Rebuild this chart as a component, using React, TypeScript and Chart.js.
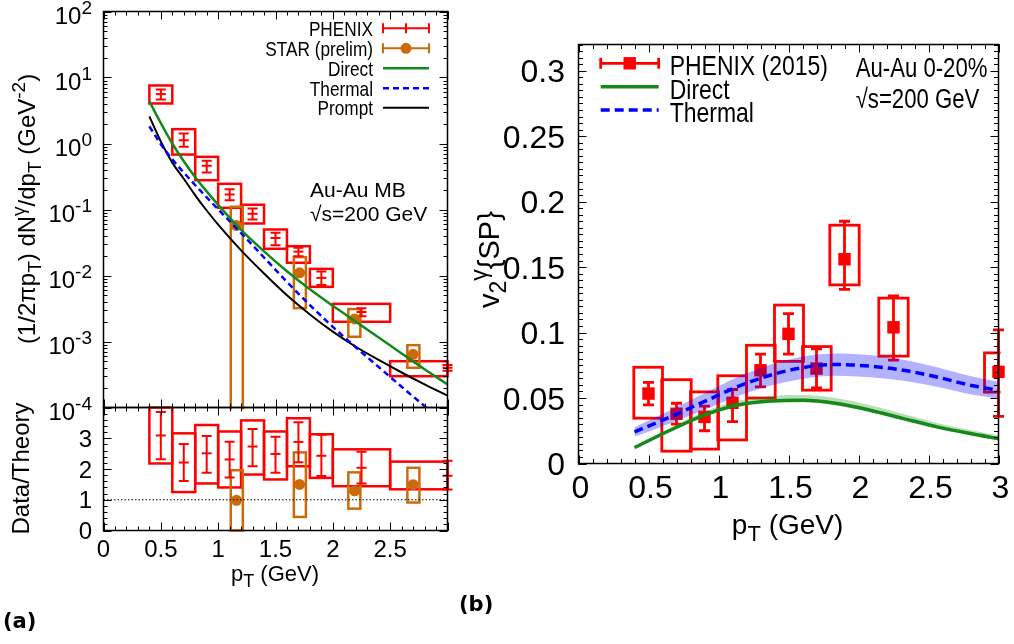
import React, { useEffect, useRef } from 'react';
import { Chart, registerables } from 'chart.js';

Chart.register(...registerables);

const W = 1014;
const H = 644;
const SANS = "'Liberation Sans', Arial, Helvetica, sans-serif";
const BOLDF = "'DejaVu Sans', 'Liberation Sans', sans-serif";
const RED = '#ff0000';
const ORANGE = '#cc6a0a';
const GREEN = '#16891a';
const BLUE = '#0000ff';

// ---------------- panel (a): spectrum ----------------
const phxX = [0.5, 0.7, 0.9, 1.1, 1.3, 1.5, 1.7, 1.9, 2.25, 3.0];
const phxY = [5.6, 1.12, 0.46, 0.169, 0.086, 0.037, 0.023, 0.0092, 0.0028, 0.0004];
const phxErrLo = [4.64, 0.89, 0.363, 0.138, 0.0705, 0.0288, 0.0196, 0.0072, 0.00242, 0.00036];
const phxErrHi = [6.58, 1.42, 0.546, 0.203, 0.1035, 0.0443, 0.0263, 0.0115, 0.0032, 0.00044];
const phxBoxXLo = [0.4, 0.6, 0.8, 1.0, 1.2, 1.4, 1.6, 1.8, 2.0, 2.5];
const phxBoxXHi = [0.6, 0.8, 1.0, 1.2, 1.4, 1.6, 1.8, 2.0, 2.5, 3.0];
const phxBoxLo = [4.04, 0.68, 0.278, 0.106, 0.0614, 0.0254, 0.0156, 0.00673, 0.00199, 0.000298];
const phxBoxHi = [7.57, 1.65, 0.628, 0.245, 0.118, 0.0498, 0.0278, 0.0126, 0.00372, 0.000503];

const starX = [1.16, 1.71, 2.19, 2.7];
const starY = [0.057, 0.011, 0.0022, 0.00064];
const starBoxXLo = [1.11, 1.66, 2.135, 2.65];
const starBoxXHi = [1.215, 1.765, 2.24, 2.755];
const starBoxLo = [0.00001, 0.0032, 0.00118, 0.0004];
const starBoxHi = [0.11, 0.019, 0.0031, 0.00088];

const specCurveX = [0.4, 0.5, 0.6, 0.7, 0.8, 0.9, 1.0, 1.2, 1.4, 1.6, 1.8, 2.0, 2.2, 2.4, 2.6, 2.8, 3.0];
const directY = [4.37, 2.04, 1.0, 0.537, 0.309, 0.188, 0.1175, 0.049, 0.0232, 0.0116, 0.00617, 0.00347, 0.002, 0.00115, 0.00066, 0.00038, 0.000224];
const thermalY = [1.82, 0.977, 0.575, 0.363, 0.234, 0.153, 0.1007, 0.044, 0.01875, 0.008, 0.00357, 0.00167, 0.000818, 0.00041, 0.000206, 0.000105, 0.0000537];
const promptY = [2.57, 1.07, 0.513, 0.292, 0.164, 0.0966, 0.0589, 0.024, 0.0107, 0.00501, 0.00257, 0.00141, 0.000832, 0.000525, 0.000339, 0.000224, 0.000151];

const specLegend = ['PHENIX', 'STAR (prelim)', 'Direct', 'Thermal', 'Prompt'];
const specYTicks = [100, 10, 1, 0.1, 0.01, 0.001, 0.0001];
const specYTickExp = ['2', '1', '0', '-1', '-2', '-3', '-4'];

// ---------------- panel (a): ratio ----------------
const phxRatioY = [3.09, 2.21, 2.51, 2.31, 2.73, 2.49, 2.88, 2.43, 2.04, 1.78];
const phxRatioErrLo = [2.32, 1.61, 1.88, 1.72, 2.09, 1.88, 2.22, 1.77, 1.53, 1.33];
const phxRatioErrHi = [3.85, 2.81, 3.07, 2.89, 3.3, 3.05, 3.52, 3.11, 2.56, 2.27];
const phxRatioBoxLo = [2.18, 1.25, 1.53, 1.4, 1.82, 1.66, 2.09, 1.71, 1.44, 1.34];
const phxRatioBoxHi = [4.0, 3.16, 3.43, 3.22, 3.58, 3.22, 3.65, 3.13, 2.64, 2.24];
const starRatioY = [0.98, 1.5, 1.29, 1.49];
const starRatioBoxLo = [0, 0.44, 0.71, 0.91];
const starRatioBoxHi = [1.96, 2.54, 1.89, 2.04];
const ratioRefX = [0, 3];
const ratioRefY = [1, 1];
const ratioYTicks = [0, 1, 2, 3];
const ratioYLabels = ['0', '1', '2', '3'];
const leftXTicks = [0, 0.5, 1, 1.5, 2, 2.5];
const leftXLabels = ['0', '0.5', '1', '1.5', '2', '2.5'];

// ---------------- panel (b): v2 ----------------
const v2X = [0.5, 0.7, 0.9, 1.1, 1.3, 1.5, 1.7, 1.9, 2.25, 3.0];
const v2Y = [0.0534, 0.038, 0.0356, 0.0463, 0.0712, 0.099, 0.0725, 0.156, 0.104, 0.07];
const v2ErrLo = [0.0448, 0.03, 0.025, 0.032, 0.0585, 0.0835, 0.0578, 0.133, 0.079, 0.036];
const v2ErrHi = [0.062, 0.046, 0.0438, 0.0565, 0.0835, 0.1145, 0.0875, 0.185, 0.128, 0.102];
const v2BoxXLo = [0.395, 0.595, 0.8, 0.995, 1.2, 1.4, 1.6, 1.795, 2.145, 2.9];
const v2BoxXHi = [0.6, 0.805, 1.0, 1.2, 1.405, 1.607, 1.805, 2.005, 2.355, 3.1];
const v2BoxLo = [0.0346, 0.0094, 0.011, 0.018, 0.05, 0.078, 0.056, 0.1364, 0.082, 0.0545];
const v2BoxHi = [0.0735, 0.064, 0.0547, 0.067, 0.0903, 0.121, 0.0893, 0.182, 0.1263, 0.0845];

const v2CurveX = [0.4, 0.655, 0.893, 1.131, 1.369, 1.607, 1.846, 2.083, 2.321, 2.56, 2.798, 3.0];
const v2Thermal = [0.0241, 0.0356, 0.047, 0.0584, 0.0674, 0.0733, 0.0756, 0.0743, 0.0712, 0.0661, 0.0598, 0.0559];
const v2ThermalUp = [0.0277, 0.0406, 0.0532, 0.0656, 0.0754, 0.0818, 0.0841, 0.0828, 0.0792, 0.0736, 0.0668, 0.0624];
const v2ThermalLo = [0.0205, 0.0306, 0.0408, 0.0512, 0.0594, 0.0648, 0.0671, 0.0658, 0.0632, 0.0586, 0.0528, 0.0494];
const v2Direct = [0.0122, 0.0254, 0.0368, 0.0445, 0.0478, 0.0483, 0.0458, 0.0407, 0.0343, 0.028, 0.0229, 0.019];
const v2DirectUp = [0.0132, 0.0272, 0.0393, 0.0477, 0.0516, 0.0523, 0.0498, 0.0445, 0.0378, 0.031, 0.0256, 0.0215];
const v2DirectLo = [0.0114, 0.0244, 0.0356, 0.0431, 0.0463, 0.0468, 0.0443, 0.0392, 0.0329, 0.0267, 0.0217, 0.0178];

const v2Legend = ['PHENIX (2015)', 'Direct', 'Thermal'];
const v2YTicks = [0, 0.05, 0.1, 0.15, 0.2, 0.25, 0.3];
const v2YLabels = ['0', '0.05', '0.1', '0.15', '0.2', '0.25', '0.3'];
const v2XTicks = [0, 0.5, 1, 1.5, 2, 2.5, 3];
const v2XLabels = ['0', '0.5', '1', '1.5', '2', '2.5', '3'];

// ---------------- helpers ----------------
type Seg = { t: string; s?: 'sub' | 'sup' };
type TxtOpt = { rotate?: boolean; sx?: number; family?: string; weight?: string; color?: string };

function drawRich(ctx: CanvasRenderingContext2D, segs: Seg[], x: number, y: number, size: number,
  align: 'left' | 'center' | 'right', o: TxtOpt = {}) {
  const family = o.family ?? SANS;
  const weight = o.weight ?? 'normal';
  const sx = o.sx ?? 1;
  ctx.save();
  ctx.translate(x, y);
  if (o.rotate) ctx.rotate(-Math.PI / 2);
  ctx.scale(sx, 1);
  ctx.fillStyle = o.color ?? '#000';
  ctx.textAlign = 'left';
  ctx.textBaseline = 'alphabetic';
  const small = Math.round(size * 0.8);
  const font = (s: Seg) => `${weight} ${s.s ? small : size}px ${family}`;
  let total = 0;
  const widths = segs.map((s) => {
    ctx.font = font(s);
    const w = ctx.measureText(s.t).width;
    total += w;
    return w;
  });
  let cx = align === 'left' ? 0 : align === 'center' ? -total / 2 : -total;
  segs.forEach((s, i) => {
    ctx.font = font(s);
    const dy = s.s === 'sub' ? size * 0.25 : s.s === 'sup' ? -size * 0.42 : 0;
    ctx.fillText(s.t, cx, dy);
    cx += widths[i];
  });
  ctx.restore();
}

const txt = (ctx: CanvasRenderingContext2D, t: string, x: number, y: number, size: number,
  align: 'left' | 'center' | 'right', o: TxtOpt = {}) => drawRich(ctx, [{ t }], x, y, size, align, o);

const gx = (c: any, v: number) => c.scales.x.getPixelForValue(v);
const gy = (c: any, v: number) => c.scales.y.getPixelForValue(v);
const pts = (xs: number[], ys: number[]) => xs.map((x, i) => ({ x, y: ys[i] }));

function steps(a: number, b: number, st: number) {
  const out: number[] = [];
  for (let v = a; v <= b + 1e-9; v += st) out.push(+v.toFixed(6));
  return out;
}
function logMinor(eMin: number, eMax: number) {
  const out: number[] = [];
  for (let e = eMin; e < eMax; e++) for (let m = 2; m <= 9; m++) out.push(m * Math.pow(10, e));
  return out;
}

function drawBoxes(c: any, x0: number[], x1: number[], lo: number[], hi: number[], color: string, lw: number) {
  const ctx: CanvasRenderingContext2D = c.ctx;
  const a = c.chartArea;
  ctx.save();
  ctx.beginPath();
  ctx.rect(a.left - 2, a.top - 2, a.right - a.left + 4, a.bottom - a.top + 4);
  ctx.clip();
  ctx.strokeStyle = color;
  ctx.lineWidth = lw;
  for (let i = 0; i < x0.length; i++) {
    const l = gx(c, x0[i]);
    const r = gx(c, x1[i]);
    const t = gy(c, hi[i]);
    const b = Math.min(gy(c, lo[i]), a.bottom + 20);
    ctx.strokeRect(l, t, r - l, b - t);
  }
  ctx.restore();
}

function drawErr(c: any, xs: number[], lo: number[], hi: number[], color: string, lw: number, cap: number) {
  const ctx: CanvasRenderingContext2D = c.ctx;
  ctx.save();
  ctx.strokeStyle = color;
  ctx.lineWidth = lw;
  ctx.beginPath();
  for (let i = 0; i < xs.length; i++) {
    const x = gx(c, xs[i]);
    const y1 = gy(c, lo[i]);
    const y2 = gy(c, hi[i]);
    ctx.moveTo(x, y1); ctx.lineTo(x, y2);
    ctx.moveTo(x - cap, y1); ctx.lineTo(x + cap, y1);
    ctx.moveTo(x - cap, y2); ctx.lineTo(x + cap, y2);
  }
  ctx.stroke();
  ctx.restore();
}

function drawFrame(c: any, xMaj: number[], xMin: number[], yMaj: number[], yMin: number[], maj: number, min: number) {
  const ctx: CanvasRenderingContext2D = c.ctx;
  const a = c.chartArea;
  ctx.save();
  ctx.strokeStyle = '#000';
  ctx.lineWidth = 1;
  ctx.beginPath();
  const tx = (v: number, len: number) => {
    const x = Math.round(gx(c, v)) + 0.5;
    ctx.moveTo(x, a.bottom); ctx.lineTo(x, a.bottom - len);
    ctx.moveTo(x, a.top); ctx.lineTo(x, a.top + len);
  };
  const ty = (v: number, len: number) => {
    const y = Math.round(gy(c, v)) + 0.5;
    ctx.moveTo(a.left, y); ctx.lineTo(a.left + len, y);
    ctx.moveTo(a.right, y); ctx.lineTo(a.right - len, y);
  };
  xMaj.forEach((v) => tx(v, maj));
  xMin.forEach((v) => tx(v, min));
  yMaj.forEach((v) => ty(v, maj));
  yMin.forEach((v) => ty(v, min));
  ctx.stroke();
  ctx.lineWidth = 1.5;
  ctx.strokeRect(a.left, a.top, a.right - a.left, a.bottom - a.top);
  ctx.restore();
}

function baseOptions(pad: any, yType: string, yMin: number, yMax: number) {
  return {
    animation: false,
    responsive: false,
    maintainAspectRatio: false,
    events: [],
    layout: { padding: pad },
    plugins: { legend: { display: false }, tooltip: { enabled: false } },
    scales: {
      x: { type: 'linear', min: 0, max: 3, display: false },
      y: { type: yType, min: yMin, max: yMax, display: false },
    },
  } as any;
}

const lineDs = (data: any, color: string, width: number, dash: number[] = [], order = 1) => ({
  type: 'line', data, borderColor: color, borderWidth: width, borderDash: dash, pointRadius: 0,
  cubicInterpolationMode: 'monotone', fill: false, order,
});
const markDs = (data: any, style: string, r: number, color: string, bw: number, order = 3) => ({
  type: 'line', data, showLine: false, pointStyle: style, pointRadius: r,
  pointBackgroundColor: color, pointBorderColor: color, pointBorderWidth: bw,
  backgroundColor: color, borderColor: color, clip: false, order,
});

const xMajor = steps(0, 3, 0.5);
const xMinor = steps(0, 3, 0.1);

// ---------------- configs ----------------
function configSpectrum() {
  const plugin = {
    id: 'spec',
    beforeDatasetsDraw(c: any) {
      drawBoxes(c, phxBoxXLo, phxBoxXHi, phxBoxLo, phxBoxHi, RED, 2.5);
      drawBoxes(c, starBoxXLo, starBoxXHi, starBoxLo, starBoxHi, ORANGE, 2.5);
      drawErr(c, phxX, phxErrLo, phxErrHi, RED, 2, 5);
    },
    afterDraw(c: any) {
      const ctx: CanvasRenderingContext2D = c.ctx;
      drawFrame(c, xMajor, xMinor, specYTicks, logMinor(-4, 2), 8, 4);
      specYTicks.forEach((v, i) =>
        drawRich(ctx, [{ t: '10' }, { t: specYTickExp[i], s: 'sup' }], 92, gy(c, v) + 12.5, 24, 'right'));
      // legend
      const rows = [28.3, 48.3, 68.3, 88.3, 107.7];
      const x0 = 383, x1 = 429, xm = 406;
      specLegend.forEach((lab, i) => txt(ctx, lab, 373, rows[i] + 7.5, 21, 'right', { sx: 0.82 }));
      ctx.save();
      ctx.lineWidth = 2;
      [[RED, rows[0]], [ORANGE, rows[1]]].forEach(([col, y]: any) => {
        ctx.strokeStyle = col;
        ctx.beginPath();
        ctx.moveTo(x0, y); ctx.lineTo(x1, y);
        ctx.moveTo(x0, y - 5); ctx.lineTo(x0, y + 5);
        ctx.moveTo(x1, y - 5); ctx.lineTo(x1, y + 5);
        if (col === RED) { ctx.moveTo(xm, y - 5); ctx.lineTo(xm, y + 5); }
        ctx.stroke();
      });
      ctx.fillStyle = ORANGE;
      ctx.beginPath(); ctx.arc(xm, rows[1], 5.5, 0, Math.PI * 2); ctx.fill();
      ctx.lineWidth = 2.5; ctx.strokeStyle = GREEN;
      ctx.beginPath(); ctx.moveTo(x0, rows[2]); ctx.lineTo(x1, rows[2]); ctx.stroke();
      ctx.strokeStyle = BLUE; ctx.setLineDash([6, 4]);
      ctx.beginPath(); ctx.moveTo(x0, rows[3]); ctx.lineTo(x1, rows[3]); ctx.stroke();
      ctx.setLineDash([]); ctx.strokeStyle = '#000'; ctx.lineWidth = 2;
      ctx.beginPath(); ctx.moveTo(x0, rows[4]); ctx.lineTo(x1, rows[4]); ctx.stroke();
      ctx.restore();
      // annotations
      txt(ctx, 'Au-Au MB', 310, 197, 21, 'left');
      txt(ctx, '√s=200 GeV', 310, 220.7, 21, 'left');
      // y title
      drawRich(ctx, [
        { t: '(1/2πp' }, { t: 'T', s: 'sub' }, { t: ') dN' }, { t: 'γ', s: 'sup' }, { t: '/dp' },
        { t: 'T', s: 'sub' }, { t: ' (GeV' }, { t: '-2', s: 'sup' }, { t: ')' },
      ], 35, 209, 24, 'center', { rotate: true });
    },
  };
  return {
    type: 'line',
    data: {
      datasets: [
        lineDs(pts(specCurveX, directY), GREEN, 2.5),
        lineDs(pts(specCurveX, thermalY), BLUE, 2.5, [6, 4]),
        lineDs(pts(specCurveX, promptY), '#000', 2),
        markDs(pts(phxX, phxY), 'line', 5, RED, 2),
        markDs(pts(starX, starY), 'circle', 5.5, ORANGE, 0),
      ],
    },
    options: baseOptions({ left: 103.5, right: W - 447.5, top: 11.5, bottom: H - 407.5 }, 'logarithmic', 1e-4, 100),
    plugins: [plugin],
  } as any;
}

function configRatio() {
  const plugin = {
    id: 'ratio',
    beforeDatasetsDraw(c: any) {
      drawBoxes(c, phxBoxXLo, phxBoxXHi, phxRatioBoxLo, phxRatioBoxHi, RED, 2.5);
      drawBoxes(c, starBoxXLo, starBoxXHi, starRatioBoxLo, starRatioBoxHi, ORANGE, 2.5);
      drawErr(c, phxX, phxRatioErrLo, phxRatioErrHi, RED, 2, 5);
    },
    afterDraw(c: any) {
      const ctx: CanvasRenderingContext2D = c.ctx;
      drawFrame(c, xMajor, xMinor, ratioYTicks, steps(0, 4, 0.2), 8, 4);
      ratioYTicks.forEach((v, i) => txt(ctx, ratioYLabels[i], 92, gy(c, v) + 8.6, 24, 'right'));
      leftXTicks.forEach((v, i) => txt(ctx, leftXLabels[i], gx(c, v), 556.7, 24, 'center'));
      drawRich(ctx, [{ t: 'p' }, { t: 'T', s: 'sub' }, { t: ' (GeV)' }], 275, 581, 22, 'center');
      txt(ctx, 'Data/Theory', 29, 468.5, 24, 'center', { rotate: true });
      txt(ctx, '(a)', 3, 628, 21, 'left', { family: BOLDF, weight: 'bold' });
    },
  };
  return {
    type: 'line',
    data: {
      datasets: [
        { ...lineDs(pts(ratioRefX, ratioRefY), '#000', 1, [1.5, 2]), cubicInterpolationMode: 'default' },
        markDs(pts(phxX, phxRatioY), 'line', 5, RED, 2),
        markDs(pts(starX, starRatioY), 'circle', 5.5, ORANGE, 0),
      ],
    },
    options: baseOptions({ left: 103.5, right: W - 447.5, top: 407.5, bottom: H - 530.5 }, 'linear', 0, 4),
    plugins: [plugin],
  } as any;
}

function configV2() {
  const plugin = {
    id: 'v2',
    beforeDatasetsDraw(c: any) {
      drawBoxes(c, v2BoxXLo, v2BoxXHi, v2BoxLo, v2BoxHi, RED, 2.8);
      drawErr(c, v2X, v2ErrLo, v2ErrHi, RED, 2.8, 5.5);
    },
    afterDraw(c: any) {
      const ctx: CanvasRenderingContext2D = c.ctx;
      drawFrame(c, xMajor, xMinor, v2YTicks, steps(0, 0.32, 0.005), 8, 4.5);
      v2YTicks.forEach((v, i) => txt(ctx, v2YLabels[i], 565, gy(c, v) + 11.5, 32, 'right'));
      v2XTicks.forEach((v, i) => txt(ctx, v2XLabels[i], gx(c, v) + 2, 498, 32, 'center'));
      drawRich(ctx, [{ t: 'p' }, { t: 'T', s: 'sub' }, { t: ' (GeV)' }], 787.6, 533.5, 28, 'center');
      drawRich(ctx, [{ t: 'v' }, { t: '2', s: 'sub' }, { t: 'γ', s: 'sup' }, { t: '{SP}' }], 499, 308, 29, 'left', { rotate: true });
      // legend
      const rows = [63.3, 86.7, 110];
      const x0 = 600.7, x1 = 658.7, xm = 629.7;
      v2Legend.forEach((lab, i) => txt(ctx, lab, 669.7, rows[i] + 12, 28, 'left', { sx: 0.82 }));
      ctx.save();
      ctx.strokeStyle = RED; ctx.lineWidth = 2.8;
      ctx.beginPath();
      ctx.moveTo(x0, rows[0]); ctx.lineTo(x1, rows[0]);
      ctx.moveTo(x0, rows[0] - 5.5); ctx.lineTo(x0, rows[0] + 5.5);
      ctx.moveTo(x1, rows[0] - 5.5); ctx.lineTo(x1, rows[0] + 5.5);
      ctx.stroke();
      ctx.fillStyle = RED; ctx.fillRect(xm - 6.2, rows[0] - 6.2, 12.4, 12.4);
      ctx.strokeStyle = GREEN; ctx.lineWidth = 3.5;
      ctx.beginPath(); ctx.moveTo(x0, rows[1]); ctx.lineTo(x1, rows[1]); ctx.stroke();
      ctx.strokeStyle = BLUE; ctx.setLineDash([9, 5]);
      ctx.beginPath(); ctx.moveTo(x0, rows[2]); ctx.lineTo(x1, rows[2]); ctx.stroke();
      ctx.restore();
      txt(ctx, 'Au-Au 0-20%', 855.7, 76.5, 27, 'left', { sx: 0.82 });
      txt(ctx, '√s=200 GeV', 855.7, 107.5, 27, 'left', { sx: 0.82 });
      txt(ctx, '(b)', 459, 611, 21, 'left', { family: BOLDF, weight: 'bold' });
    },
  };
  const band = (data: any, fill: any, bg: string) => ({
    type: 'line', data, borderColor: 'rgba(0,0,0,0)', borderWidth: 1, pointRadius: 0,
    cubicInterpolationMode: 'monotone', fill, backgroundColor: bg, order: 1,
  });
  return {
    type: 'line',
    data: {
      datasets: [
        band(pts(v2CurveX, v2ThermalUp), false, 'rgba(0,0,0,0)'),
        band(pts(v2CurveX, v2ThermalLo), '-1', 'rgba(0,0,255,0.3)'),
        lineDs(pts(v2CurveX, v2Thermal), BLUE, 3.5, [9, 5], 0),
        band(pts(v2CurveX, v2DirectUp), false, 'rgba(0,0,0,0)'),
        band(pts(v2CurveX, v2DirectLo), '-1', 'rgba(0,140,0,0.28)'),
        lineDs(pts(v2CurveX, v2Direct), GREEN, 3.5, [], 0),
        markDs(pts(v2X, v2Y), 'rect', 8.8, RED, 0, 5),
      ],
    },
    options: baseOptions({ left: 578.5, right: W - 998.5, top: 44.5, bottom: H - 463.5 }, 'linear', 0, 0.32),
    plugins: [plugin],
  } as any;
}

export default function App() {
  const refA = useRef<HTMLCanvasElement>(null);
  const refB = useRef<HTMLCanvasElement>(null);
  const refC = useRef<HTMLCanvasElement>(null);

  useEffect(() => {
    const charts = [
      new Chart(refA.current as HTMLCanvasElement, configSpectrum()),
      new Chart(refB.current as HTMLCanvasElement, configRatio()),
      new Chart(refC.current as HTMLCanvasElement, configV2()),
    ];
    return () => charts.forEach((c) => c.destroy());
  }, []);

  const cs: React.CSSProperties = { position: 'absolute', left: 0, top: 0, width: W, height: H, pointerEvents: 'none' };
  return (
    <div style={{ position: 'absolute', left: 0, top: 0, width: W, height: H, background: '#fff', overflow: 'hidden' }}>
      <canvas ref={refA} width={W} height={H} style={cs} />
      <canvas ref={refB} width={W} height={H} style={cs} />
      <canvas ref={refC} width={W} height={H} style={cs} />
    </div>
  );
}
